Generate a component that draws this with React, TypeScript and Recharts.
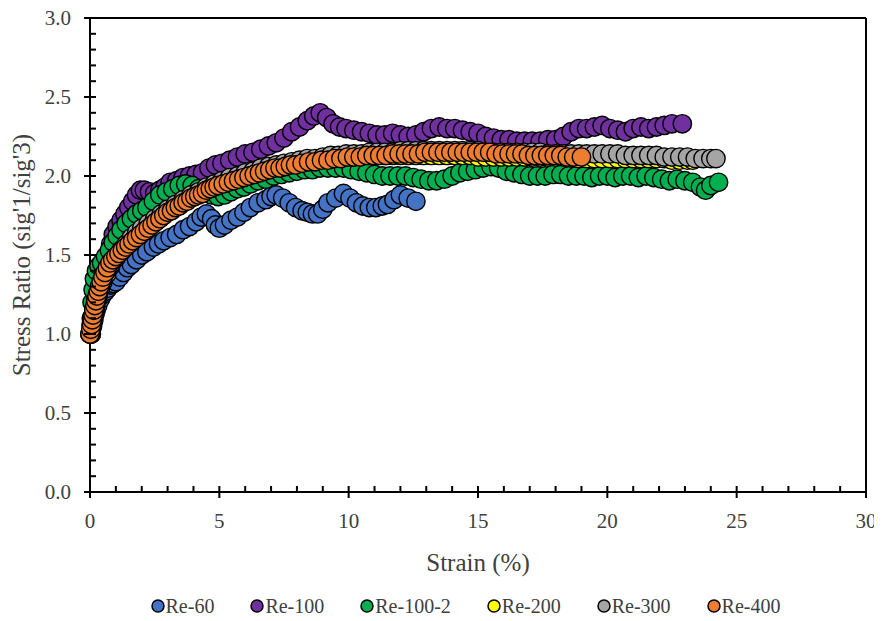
import { Legend, ReferenceLine, Scatter, ScatterChart, XAxis, YAxis } from "recharts";

// strain (%) vs stress ratio, one list of [strain, ratio] pairs per test
const re60: [number, number][] = [
  [0.05, 1.0], [0.1, 1.05], [0.15, 1.09], [0.2, 1.13], [0.25, 1.16], [0.3, 1.18], [0.4, 1.22], [0.5, 1.25],
  [0.6, 1.27], [0.7, 1.29], [0.8, 1.31], [0.9, 1.32], [1.0, 1.33], [1.15, 1.36], [1.3, 1.39], [1.45, 1.42],
  [1.6, 1.44], [1.8, 1.47], [2.0, 1.5], [2.2, 1.52], [2.45, 1.55], [2.65, 1.57], [2.85, 1.59], [3.1, 1.61],
  [3.35, 1.63], [3.6, 1.66], [3.85, 1.68], [4.1, 1.71], [4.3, 1.74], [4.5, 1.76], [4.7, 1.73], [4.85, 1.69],
  [5.0, 1.67], [5.2, 1.69], [5.45, 1.72], [5.7, 1.74], [5.95, 1.77], [6.2, 1.8], [6.5, 1.83], [6.8, 1.85],
  [7.0, 1.87], [7.2, 1.88], [7.45, 1.86], [7.7, 1.83], [7.95, 1.8], [8.2, 1.78], [8.4, 1.77], [8.6, 1.76],
  [8.8, 1.76], [9.0, 1.79], [9.2, 1.83], [9.5, 1.86], [9.8, 1.89], [10.05, 1.86], [10.3, 1.83], [10.55, 1.81],
  [10.8, 1.8], [11.05, 1.8], [11.3, 1.81], [11.5, 1.82], [11.75, 1.85], [12.0, 1.88], [12.3, 1.86], [12.6, 1.84],
];

const re100: [number, number][] = [
  [0.05, 1.0], [0.1, 1.07], [0.15, 1.12], [0.2, 1.16], [0.3, 1.23], [0.4, 1.3], [0.5, 1.37], [0.6, 1.44],
  [0.7, 1.51], [0.8, 1.57], [0.9, 1.63], [1.05, 1.68], [1.2, 1.72], [1.35, 1.76], [1.5, 1.8], [1.65, 1.84],
  [1.8, 1.88], [1.95, 1.91], [2.1, 1.91], [2.3, 1.9], [2.5, 1.89], [2.7, 1.91], [2.9, 1.93], [3.1, 1.96],
  [3.35, 1.97], [3.6, 1.99], [3.85, 2.0], [4.1, 2.01], [4.35, 2.02], [4.6, 2.05], [4.85, 2.07], [5.1, 2.08],
  [5.4, 2.1], [5.7, 2.12], [6.0, 2.14], [6.3, 2.15], [6.6, 2.17], [6.9, 2.19], [7.2, 2.21], [7.5, 2.24],
  [7.8, 2.28], [8.1, 2.31], [8.4, 2.35], [8.65, 2.38], [8.9, 2.4], [9.15, 2.37], [9.4, 2.33], [9.65, 2.31],
  [9.9, 2.3], [10.2, 2.29], [10.5, 2.28], [10.8, 2.27], [11.1, 2.26], [11.4, 2.26], [11.7, 2.27], [12.0, 2.26],
  [12.3, 2.25], [12.6, 2.26], [12.9, 2.28], [13.2, 2.3], [13.5, 2.31], [13.8, 2.3], [14.1, 2.3], [14.4, 2.29],
  [14.7, 2.28], [15.0, 2.27], [15.3, 2.25], [15.6, 2.24], [15.9, 2.23], [16.2, 2.23], [16.5, 2.22], [16.8, 2.22],
  [17.1, 2.22], [17.4, 2.22], [17.7, 2.23], [18.0, 2.23], [18.3, 2.25], [18.6, 2.28], [18.9, 2.3], [19.2, 2.3],
  [19.5, 2.31], [19.8, 2.32], [20.1, 2.3], [20.4, 2.29], [20.7, 2.28], [21.0, 2.3], [21.3, 2.31], [21.6, 2.3],
  [21.9, 2.31], [22.2, 2.32], [22.5, 2.33], [22.9, 2.33],
];

const re100b: [number, number][] = [
  [0.02, 1.0], [0.05, 1.1], [0.08, 1.2], [0.12, 1.28], [0.17, 1.35], [0.25, 1.4], [0.35, 1.43], [0.45, 1.45],
  [0.6, 1.49], [0.75, 1.53], [0.9, 1.58], [1.05, 1.62], [1.2, 1.66], [1.4, 1.7], [1.6, 1.73], [1.8, 1.76],
  [2.0, 1.78], [2.2, 1.8], [2.45, 1.84], [2.7, 1.88], [2.95, 1.9], [3.2, 1.92], [3.45, 1.94], [3.7, 1.95],
  [3.95, 1.94], [4.2, 1.92], [4.45, 1.9], [4.7, 1.88], [4.95, 1.87], [5.2, 1.88], [5.45, 1.9], [5.7, 1.92],
  [5.95, 1.93], [6.2, 1.95], [6.5, 1.97], [6.8, 1.98], [7.1, 2.0], [7.4, 2.01], [7.7, 2.02], [8.0, 2.03],
  [8.3, 2.04], [8.6, 2.04], [8.9, 2.05], [9.2, 2.05], [9.5, 2.05], [9.8, 2.05], [10.1, 2.04], [10.4, 2.03],
  [10.7, 2.02], [11.0, 2.01], [11.3, 2.0], [11.6, 2.0], [11.9, 2.0], [12.2, 2.0], [12.5, 1.99], [12.8, 1.98],
  [13.1, 1.97], [13.4, 1.97], [13.7, 1.98], [14.0, 2.0], [14.3, 2.02], [14.6, 2.03], [14.9, 2.04], [15.2, 2.05],
  [15.5, 2.06], [15.8, 2.05], [16.1, 2.03], [16.4, 2.02], [16.7, 2.01], [17.0, 2.0], [17.3, 2.0], [17.6, 2.0],
  [17.9, 2.01], [18.2, 2.01], [18.5, 2.0], [18.8, 2.0], [19.1, 2.0], [19.4, 1.99], [19.7, 2.0], [20.0, 2.0],
  [20.3, 1.99], [20.6, 2.0], [20.9, 2.0], [21.2, 1.99], [21.5, 2.0], [21.8, 1.99], [22.1, 1.98], [22.4, 1.97],
  [22.7, 1.98], [23.0, 1.97], [23.3, 1.96], [23.6, 1.93], [23.8, 1.91], [24.0, 1.94], [24.3, 1.96],
];

const re200: [number, number][] = [
  [0, 1.0], [0.05, 1.05], [0.1, 1.1], [0.15, 1.14], [0.22, 1.19], [0.3, 1.24], [0.4, 1.29], [0.5, 1.33],
  [0.65, 1.38], [0.8, 1.43], [1.0, 1.48], [1.2, 1.52], [1.4, 1.56], [1.6, 1.6], [1.8, 1.63], [2.0, 1.66],
  [2.25, 1.69], [2.5, 1.72], [2.75, 1.75], [3.0, 1.78], [3.3, 1.81], [3.6, 1.84], [3.9, 1.87], [4.2, 1.89],
  [4.5, 1.92], [4.8, 1.94], [5.1, 1.96], [5.4, 1.98], [5.7, 1.99], [6.0, 2.01], [6.3, 2.02], [6.6, 2.04],
  [6.9, 2.05], [7.2, 2.06], [7.5, 2.07], [7.8, 2.08], [8.1, 2.09], [8.4, 2.1], [8.7, 2.1], [9.0, 2.11],
  [9.3, 2.11], [9.6, 2.12], [9.9, 2.12], [10.2, 2.12], [10.5, 2.13], [10.8, 2.13], [11.1, 2.13], [11.4, 2.13],
  [11.7, 2.13], [12.0, 2.13], [12.3, 2.13], [12.6, 2.13], [12.9, 2.13], [13.2, 2.13], [13.5, 2.13], [13.8, 2.13],
  [14.1, 2.13], [14.4, 2.13], [14.7, 2.13], [15.0, 2.12], [15.3, 2.12], [15.6, 2.12], [15.9, 2.12], [16.2, 2.12],
  [16.5, 2.12], [16.8, 2.12], [17.1, 2.12], [17.4, 2.12], [17.7, 2.12], [18.0, 2.12], [18.3, 2.12], [18.6, 2.12],
  [18.9, 2.11], [19.2, 2.11], [19.5, 2.11], [19.8, 2.11], [20.1, 2.11], [20.4, 2.11], [20.7, 2.11], [21.0, 2.11],
  [21.3, 2.11], [21.6, 2.11], [21.9, 2.11], [22.2, 2.11], [22.5, 2.1], [22.8, 2.1], [23.1, 2.1], [23.3, 2.1],
];

const re300: [number, number][] = [
  [0, 1.0], [0.05, 1.06], [0.1, 1.11], [0.15, 1.16], [0.22, 1.21], [0.3, 1.26], [0.4, 1.31], [0.5, 1.35],
  [0.65, 1.4], [0.8, 1.44], [1.0, 1.49], [1.2, 1.53], [1.4, 1.57], [1.6, 1.61], [1.8, 1.64], [2.0, 1.67],
  [2.25, 1.7], [2.5, 1.73], [2.75, 1.76], [3.0, 1.79], [3.3, 1.82], [3.6, 1.85], [3.9, 1.88], [4.2, 1.9],
  [4.5, 1.93], [4.8, 1.95], [5.1, 1.97], [5.4, 1.99], [5.7, 2.0], [6.0, 2.02], [6.3, 2.03], [6.6, 2.05],
  [6.9, 2.06], [7.2, 2.07], [7.5, 2.08], [7.8, 2.09], [8.1, 2.1], [8.4, 2.11], [8.7, 2.11], [9.0, 2.12],
  [9.3, 2.13], [9.6, 2.13], [9.9, 2.14], [10.2, 2.14], [10.5, 2.14], [10.8, 2.15], [11.1, 2.15], [11.4, 2.15],
  [11.7, 2.15], [12.0, 2.16], [12.3, 2.16], [12.6, 2.16], [12.9, 2.16], [13.2, 2.16], [13.5, 2.16], [13.8, 2.16],
  [14.1, 2.16], [14.4, 2.16], [14.7, 2.16], [15.0, 2.16], [15.3, 2.15], [15.6, 2.15], [15.9, 2.15], [16.2, 2.15],
  [16.5, 2.15], [16.8, 2.15], [17.1, 2.15], [17.4, 2.15], [17.7, 2.14], [18.0, 2.14], [18.3, 2.14], [18.6, 2.14],
  [18.9, 2.14], [19.2, 2.14], [19.5, 2.14], [19.8, 2.14], [20.1, 2.14], [20.4, 2.14], [20.7, 2.13], [21.0, 2.13],
  [21.3, 2.13], [21.6, 2.13], [21.9, 2.13], [22.2, 2.12], [22.5, 2.12], [22.8, 2.12], [23.1, 2.12], [23.4, 2.11],
  [23.7, 2.11], [24.0, 2.11], [24.2, 2.11],
];

const re400: [number, number][] = [
  [0, 1.0], [0.03, 1.03], [0.06, 1.06], [0.09, 1.09], [0.12, 1.12], [0.15, 1.15], [0.19, 1.18], [0.23, 1.21],
  [0.27, 1.24], [0.32, 1.27], [0.37, 1.3], [0.43, 1.33], [0.5, 1.36], [0.58, 1.39], [0.67, 1.42], [0.77, 1.45],
  [0.88, 1.47], [1.0, 1.49], [1.12, 1.51], [1.25, 1.53], [1.38, 1.55], [1.51, 1.57], [1.65, 1.59], [1.8, 1.61],
  [1.95, 1.63], [2.1, 1.65], [2.25, 1.67], [2.4, 1.69], [2.55, 1.71], [2.7, 1.73], [2.85, 1.75], [3.0, 1.77],
  [3.15, 1.78], [3.3, 1.8], [3.45, 1.81], [3.6, 1.83], [3.75, 1.84], [3.9, 1.86], [4.05, 1.87], [4.2, 1.88],
  [4.35, 1.89], [4.5, 1.91], [4.65, 1.92], [4.8, 1.93], [4.95, 1.94], [5.15, 1.95], [5.35, 1.96], [5.55, 1.97],
  [5.75, 1.98], [5.95, 1.99], [6.15, 2.0], [6.35, 2.01], [6.55, 2.02], [6.75, 2.03], [6.95, 2.04], [7.15, 2.05],
  [7.35, 2.05], [7.55, 2.06], [7.75, 2.07], [7.95, 2.07], [8.2, 2.08], [8.45, 2.09], [8.7, 2.09], [8.95, 2.1],
  [9.2, 2.1], [9.45, 2.11], [9.7, 2.11], [9.95, 2.12], [10.2, 2.12], [10.45, 2.12], [10.7, 2.13], [10.95, 2.13],
  [11.2, 2.13], [11.45, 2.13], [11.7, 2.14], [11.95, 2.14], [12.2, 2.14], [12.45, 2.14], [12.7, 2.14], [12.95, 2.15],
  [13.2, 2.15], [13.45, 2.15], [13.7, 2.15], [13.95, 2.15], [14.2, 2.15], [14.45, 2.15], [14.7, 2.15], [14.95, 2.15],
  [15.2, 2.15], [15.45, 2.15], [15.7, 2.14], [15.95, 2.14], [16.2, 2.14], [16.45, 2.14], [16.7, 2.14], [16.95, 2.13],
  [17.2, 2.13], [17.45, 2.13], [17.7, 2.13], [17.95, 2.13], [18.2, 2.13], [18.45, 2.12], [18.7, 2.12], [19.0, 2.12],
];

const SERIES = [
  { name: "Re-60", color: "#4472C4", data: re60 },
  { name: "Re-100", color: "#7030A0", data: re100 },
  { name: "Re-100-2", color: "#00B050", data: re100b },
  { name: "Re-200", color: "#FFFF00", data: re200 },
  { name: "Re-300", color: "#A5A5A5", data: re300 },
  { name: "Re-400", color: "#ED7D31", data: re400 },
];

// major ticks get a label, minor ones only a short inward mark
const X_TICKS = Array.from({ length: 31 }, (_, i) => i);
const Y_TICKS = Array.from({ length: 31 }, (_, i) => i / 10);

const FONT = "'Liberation Serif', serif";
const TEXT_COLOR = "#404040";

function XTick(props: any) {
  const { x, y, payload } = props;
  const v = payload.value;
  const major = v % 5 === 0;
  return (
    <g>
      <line x1={x} x2={x} y1={y - 6} y2={major ? y + 6 : y} stroke="#000" strokeWidth={2} />
      {major && (
        <text x={x} y={y + 29} textAnchor="middle" dominantBaseline="central" fontSize={21} fill={TEXT_COLOR} fontFamily={FONT}>
          {v}
        </text>
      )}
    </g>
  );
}

function YTick(props: any) {
  const { x, y, payload } = props;
  const v = payload.value;
  const major = Math.abs(v * 2 - Math.round(v * 2)) < 1e-6;
  return (
    <g>
      <line x1={major ? x - 6 : x} x2={x + 6} y1={y} y2={y} stroke="#000" strokeWidth={2} />
      {major && (
        <text x={x - 19} y={y} textAnchor="end" dominantBaseline="central" fontSize={21} fill={TEXT_COLOR} fontFamily={FONT}>
          {v.toFixed(1)}
        </text>
      )}
    </g>
  );
}

function renderLegend() {
  return (
    <div
      style={{
        display: "flex",
        justifyContent: "center",
        alignItems: "center",
        height: 26,
        paddingLeft: 57,
        fontFamily: FONT,
        fontSize: 20,
        color: TEXT_COLOR,
      }}
    >
      {SERIES.map((s) => (
        <div key={s.name} style={{ display: "flex", alignItems: "center", margin: "0 18px" }}>
          <svg width={14} height={14} style={{ marginRight: 1 }}>
            <circle cx={7} cy={7} r={6} fill={s.color} stroke="#000" strokeWidth={1.5} />
          </svg>
          <span>{s.name}</span>
        </div>
      ))}
    </div>
  );
}

const toPoints = (pairs: [number, number][]) => pairs.map(([strain, ratio]) => ({ strain, ratio }));

export default function App() {
  return (
    <div style={{ marginTop: -8 }}>
      <ScatterChart width={874} height={621} margin={{ top: 18, right: 16, left: 0, bottom: 2 }}>
        <XAxis
          type="number"
          dataKey="strain"
          domain={[0, 30]}
          ticks={X_TICKS}
          interval={0}
          tick={<XTick />}
          tickLine={false}
          tickSize={0}
          tickMargin={0}
          height={101}
          axisLine={{ stroke: "#000", strokeWidth: 2 }}
          label={(props: any) => {
            const vb = props.viewBox;
            return (
              <text x={vb.x + vb.width / 2} y={vb.y + 70} textAnchor="middle" dominantBaseline="central" fontSize={25} fill={TEXT_COLOR} fontFamily={FONT}>
                Strain (%)
              </text>
            );
          }}
        />
        <YAxis
          type="number"
          dataKey="ratio"
          domain={[0, 3]}
          ticks={Y_TICKS}
          interval={0}
          tick={<YTick />}
          tickLine={false}
          tickSize={0}
          tickMargin={0}
          width={82}
          axisLine={{ stroke: "#000", strokeWidth: 2 }}
          label={(props: any) => {
            const vb = props.viewBox;
            const cx = vb.x + 13;
            const cy = vb.y + vb.height / 2;
            return (
              <text x={cx} y={cy} transform={`rotate(-90 ${cx} ${cy})`} textAnchor="middle" dominantBaseline="central" fontSize={25} fill={TEXT_COLOR} fontFamily={FONT}>
                Stress Ratio (sig'1/sig'3)
              </text>
            );
          }}
        />
        <ReferenceLine y={3} stroke="#000" strokeWidth={2} />
        <ReferenceLine x={30} stroke="#000" strokeWidth={2} />
        {SERIES.map((s) => (
          <Scatter
            key={s.name}
            name={s.name}
            data={toPoints(s.data)}
            fill={s.color}
            isAnimationActive={false}
            shape={(p: any) => <circle cx={p.cx} cy={p.cy} r={9.2} fill={s.color} stroke="#000" strokeWidth={1.4} />}
          />
        ))}
        <Legend verticalAlign="bottom" content={renderLegend} />
      </ScatterChart>
    </div>
  );
}
